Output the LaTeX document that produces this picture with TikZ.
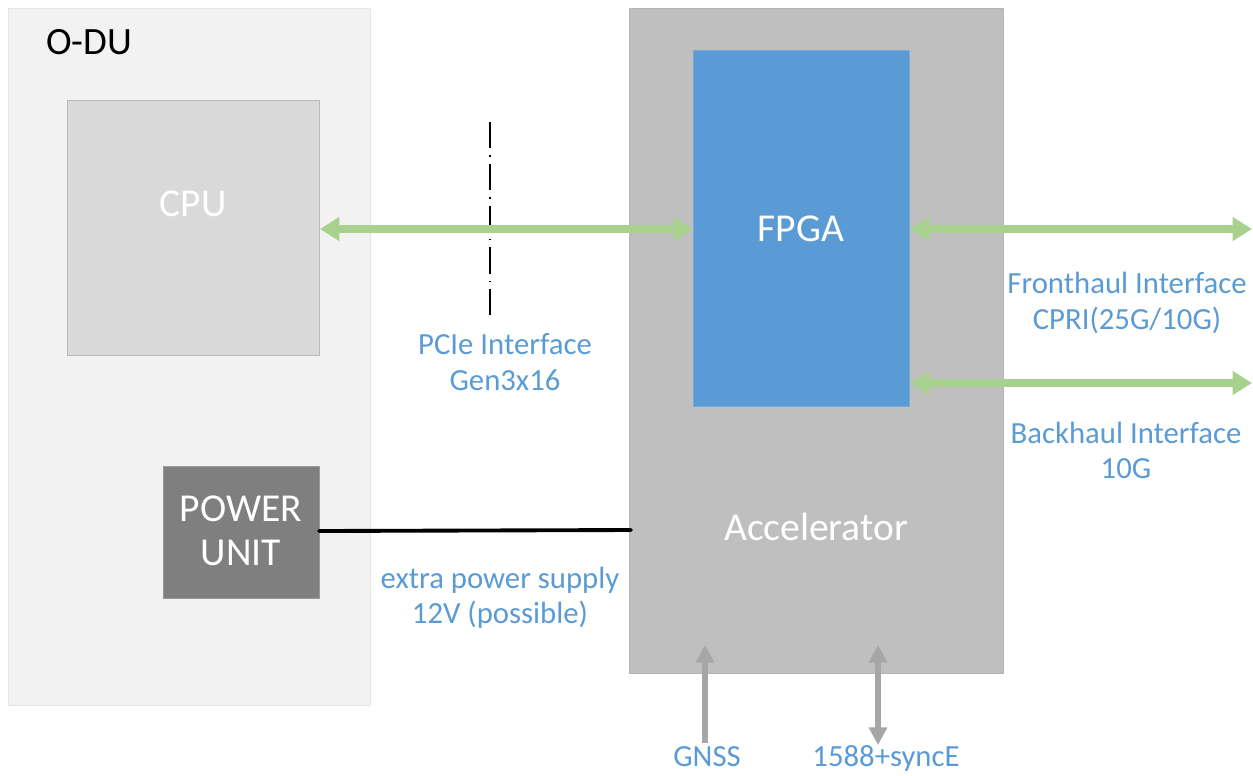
\documentclass[tikz,border=0pt]{standalone}
\usepackage{fontspec}
\setmainfont{Carlito}
\usetikzlibrary{arrows.meta}
\definecolor{odubg}{HTML}{F2F2F2}
\definecolor{cpubg}{HTML}{D9D9D9}
\definecolor{pwrbg}{HTML}{7F7F7F}
\definecolor{accbg}{HTML}{BFBFBF}
\definecolor{fpgabg}{HTML}{5B9BD5}
\definecolor{grn}{HTML}{A9D18E}
\definecolor{lbl}{HTML}{5B9BD5}
\definecolor{garr}{HTML}{A6A6A6}
\tikzset{
  blk/.style={draw=#1!85!black, line width=0.5pt, fill=#1, inner sep=0pt, anchor=north west},
  boxtext/.style={text=white, font=\fontsize{22.5}{26}\selectfont, align=center},
  lab/.style={text=lbl, font=\fontsize{17.5}{20}\selectfont, align=center},
  garrow/.style={draw=grn, line width=4.5pt, {Triangle[width=13pt,length=11pt]}-{Triangle[width=13pt,length=11pt]}},
  gyarrow/.style={draw=garr, line width=3.4pt}
}
\begin{document}
\begin{tikzpicture}[x=0.02cm,y=-0.02cm]
\useasboundingbox (0,0) rectangle (1253,775);
% O-DU
\node[blk=odubg, draw=odubg!95!black, minimum width=362*0.02cm, minimum height=697*0.02cm] (odu) at (8,8) {};
\node[anchor=west, font=\fontsize{22}{26}\selectfont] (odulbl) at (40,42) {O-DU};
% CPU
\node[blk=cpubg, minimum width=252*0.02cm, minimum height=255*0.02cm] (cpu) at (67,100) {};
\node[boxtext] (cputxt) at (193,204) {CPU};
% Power unit
\node[blk=pwrbg, draw=pwrbg!80!white, minimum width=156*0.02cm, minimum height=132*0.02cm] (pwr) at (163,466) {};
\node[boxtext, align=center] (pwrtxt) at (241,531) {POWER\\[-1pt]UNIT};
% Accelerator
\node[blk=accbg, draw=accbg!95!black, minimum width=374*0.02cm, minimum height=665*0.02cm] (acc) at (629,8) {};
\node[boxtext] (acctxt) at (816,527) {Accelerator};
% FPGA
\node[blk=fpgabg, draw=fpgabg!85!white, minimum width=216*0.02cm, minimum height=356*0.02cm] (fpga) at (693,50) {};
\node[boxtext] (fpgatxt) at (801,229) {FPGA};
% coordinates
\coordinate (cpuR) at (320,229);
\coordinate (fpgaL) at (693,229);
\coordinate (fhL) at (910,229);
\coordinate (fhR) at (1252,229);
\coordinate (bhL) at (910,383);
\coordinate (bhR) at (1252,383);
\coordinate (pwrR) at (319,531);
\coordinate (accL) at (631,530);
\coordinate (gnssB) at (705,743);
\coordinate (gnssT) at (705,645);
\coordinate (syncB) at (878,745);
\coordinate (syncT) at (878,645);
\coordinate (dtop) at (490,122);
\coordinate (dbot) at (490,315);
% dash-dot separator
\draw[line width=1.2pt, dash pattern=on 15pt off 4pt on 0.8pt off 4pt] (dtop) -- (dbot);
% green arrows
\draw[garrow] (cpuR) -- (fpgaL);
\draw[garrow] (fhL) -- (fhR);
\draw[garrow] (bhL) -- (bhR);
% power line
\draw[line width=2.2pt, line cap=round] (pwrR) -- (accL);
% gray arrows
\draw[gyarrow, -{Triangle[width=10pt,length=10pt]}] (gnssB) -- (gnssT);
\draw[gyarrow, {Triangle[width=10pt,length=10pt]}-{Triangle[width=10pt,length=10pt]}] (syncB) -- (syncT);
% labels
\node[lab] (pcie) at (505,362) {PCIe Interface\\Gen3x16};
\node[lab] (fh) at (1127,303) {Fronthaul Interface\\CPRI(25G/10G)};
\node[lab] (bh) at (1126,450) {Backhaul Interface\\10G};
\node[lab] (eps) at (500,598) {extra power supply\\12V (possible)};
\node[lab, anchor=base, inner sep=0pt] (gnss) at (707,766) {GNSS};
\node[lab, anchor=base, inner sep=0pt] (sync) at (886,766) {1588+syncE};
\end{tikzpicture}
\end{document}
